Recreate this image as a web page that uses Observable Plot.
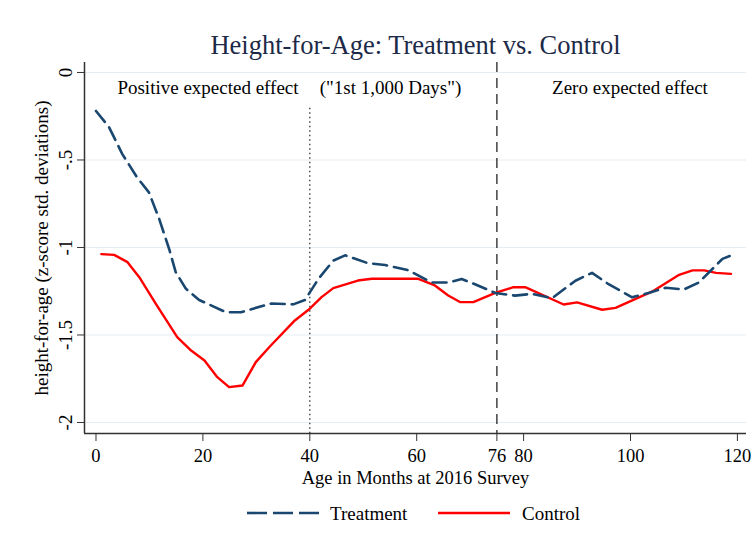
<!DOCTYPE html>
<html><head><meta charset="utf-8">
<script src="https://cdn.jsdelivr.net/npm/d3@7"></script>
<script src="https://cdn.jsdelivr.net/npm/@observablehq/plot@0.6"></script>
<style>
body{margin:0;background:#fff;}
#wrap{position:relative;width:752px;height:552px;font-family:"Liberation Serif","Times New Roman",serif;}
#legend{position:absolute;left:0;top:0;width:752px;height:552px;pointer-events:none;}
.lg{position:absolute;font-size:19px;color:#000;line-height:19px;}
</style>
</head><body>
<div id="wrap"><div id="chart"></div><div id="legend"></div></div>
<script>
// ---- data ----
const titleText = "Height-for-Age: Treatment vs. Control";
const xLabel = "Age in Months at 2016 Survey";
const yLabel = "height-for-age (z-score std. deviations)";
const seriesNames = ["Treatment", "Control"];

const treatmentMonths = [0, 2.4, 4.9, 7.7, 9.9, 11.8, 13.7, 14.9, 16.8, 19.3, 24.3, 27.1, 29.4, 32.8, 36.9, 39.1, 41.6, 44.4, 46.6, 50.9, 54.1, 58.4, 62.8, 65.9, 68.4, 70.9, 74.7, 78.4, 81.6, 85.3, 89.7, 92.8, 95.9, 100.3, 103.4, 106.6, 110, 112.8, 117.2, 119.7];
const treatmentValues = [-0.22, -0.31, -0.465, -0.60, -0.685, -0.835, -1.01, -1.14, -1.235, -1.30, -1.37, -1.37, -1.35, -1.32, -1.325, -1.30, -1.18, -1.075, -1.045, -1.09, -1.10, -1.13, -1.20, -1.20, -1.18, -1.21, -1.26, -1.275, -1.265, -1.29, -1.19, -1.145, -1.21, -1.285, -1.26, -1.23, -1.24, -1.20, -1.065, -1.035];

const controlMonths = [1, 3.4, 5.9, 8.1, 11.2, 15.2, 17.8, 20.3, 22.7, 24.9, 27.4, 29.9, 32.4, 37.2, 40, 42.2, 44.4, 49, 51.6, 60.3, 63.4, 65.9, 68.1, 70.6, 74.7, 78.1, 80.3, 87.5, 90, 94.7, 97.2, 104.1, 109.1, 111.6, 113.8, 116, 118.8];
const controlValues = [-1.038, -1.042, -1.084, -1.17, -1.322, -1.512, -1.589, -1.646, -1.741, -1.798, -1.789, -1.655, -1.57, -1.417, -1.35, -1.284, -1.232, -1.189, -1.179, -1.179, -1.217, -1.274, -1.312, -1.312, -1.26, -1.227, -1.227, -1.326, -1.314, -1.356, -1.345, -1.251, -1.156, -1.131, -1.131, -1.145, -1.151];

const xTicks = [0, 20, 40, 60, 75, 80, 100, 120];
const xTickLabels = ["0", "20", "40", "60", "76", "80", "100", "120"];
const yTicks = [0, -0.5, -1, -1.5, -2];
const yTickLabels = ["0", "-.5", "-1", "-1.5", "-2"];

const windowLine = 40;   // end of "1st 1,000 Days"
const cutoffLine = 75;   // labelled 76
const notes = ["Positive expected effect", "(\"1st 1,000 Days\")", "Zero expected effect"];
const noteMonths = [20.95, 55.1, 99.9];
const noteY = -0.09;

const xDomain = [-2.15, 121.7];
const yDomain = [-2.063, 0.057];

// ---- build ----
const tRows = treatmentMonths.map((m, i) => ({month: m, value: treatmentValues[i]}));
const cRows = controlMonths.map((m, i) => ({month: m, value: controlValues[i]}));
const noteRows = notes.map((t, i) => ({text: t, month: noteMonths[i], y: noteY}));

const navy = "#1a476f", red = "#ff0000", axisCol = "#333";
const F = "Liberation Serif, Times New Roman, serif";

const chart = Plot.plot({
  width: 752, height: 552,
  marginTop: 62, marginBottom: 119, marginLeft: 84, marginRight: 6,
  style: {fontFamily: F, fontSize: "19px", background: "#fff", color: "#000"},
  x: {domain: xDomain, axis: null},
  y: {domain: yDomain, axis: null},
  marks: [
    Plot.ruleY(yTicks, {stroke: "#e5edf2", strokeWidth: 1.2}),
    Plot.ruleX([windowLine], {y1: -0.205, y2: yDomain[0], stroke: "#333", strokeWidth: 1.3, strokeDasharray: "1.5,3"}),
    Plot.ruleX([cutoffLine], {y1: yDomain[1], y2: yDomain[0], stroke: "#333", strokeWidth: 1.4, strokeDasharray: "10,6"}),
    Plot.line(cRows, {x: "month", y: "value", stroke: red, strokeWidth: 2.4}),
    Plot.line(tRows, {x: "month", y: "value", stroke: navy, strokeWidth: 2.6, strokeDasharray: "14,7"}),
    Plot.ruleX([xDomain[0]], {stroke: axisCol, strokeWidth: 1.5}),
    Plot.ruleY([yDomain[0]], {stroke: axisCol, strokeWidth: 1.5}),
    Plot.axisX({ticks: xTicks, tickFormat: d => xTickLabels[xTicks.indexOf(d)], tickSize: 8, tickPadding: 7, fontSize: 18.5, stroke: axisCol, label: null}),
    Plot.axisY({ticks: yTicks, tickFormat: () => "", tickSize: 7, stroke: axisCol, label: null}),
    Plot.text(yTicks, {y: d => d, text: (d, i) => yTickLabels[i], frameAnchor: "left", textAnchor: "middle", lineAnchor: "middle", dx: -19, rotate: -90, fontSize: 19}),
    Plot.text([yLabel], {frameAnchor: "left", textAnchor: "middle", lineAnchor: "middle", dx: -43, rotate: -90, fontSize: 19}),
    Plot.text([xLabel], {frameAnchor: "bottom", lineAnchor: "middle", dy: 45, fontSize: 18.5}),
    Plot.text([titleText], {frameAnchor: "top", lineAnchor: "bottom", dy: -9, fontSize: 26.5, fill: "#1c2a48"}),
    Plot.text(noteRows, {x: "month", y: "y", text: "text", fontSize: 19})
  ]
});
document.getElementById("chart").appendChild(chart);

// legend below the plot
const lg = document.getElementById("legend");
const items = [
  {name: seriesNames[0], color: navy, dash: "20,6", x: 247, tx: 330},
  {name: seriesNames[1], color: red, dash: "none", x: 438, tx: 522}
];
items.forEach(it => {
  const s = document.createElementNS("http://www.w3.org/2000/svg", "svg");
  s.setAttribute("width", 72); s.setAttribute("height", 6);
  s.style.position = "absolute"; s.style.left = it.x + "px"; s.style.top = "510px";
  const l = document.createElementNS("http://www.w3.org/2000/svg", "line");
  l.setAttribute("x1", 0); l.setAttribute("x2", 72); l.setAttribute("y1", 3); l.setAttribute("y2", 3);
  l.setAttribute("stroke", it.color); l.setAttribute("stroke-width", 2.6);
  if (it.dash !== "none") l.setAttribute("stroke-dasharray", it.dash);
  s.appendChild(l); lg.appendChild(s);
  const t = document.createElement("div");
  t.className = "lg"; t.textContent = it.name;
  t.style.left = it.tx + "px"; t.style.top = "504px";
  lg.appendChild(t);
});
</script>
</body></html>
